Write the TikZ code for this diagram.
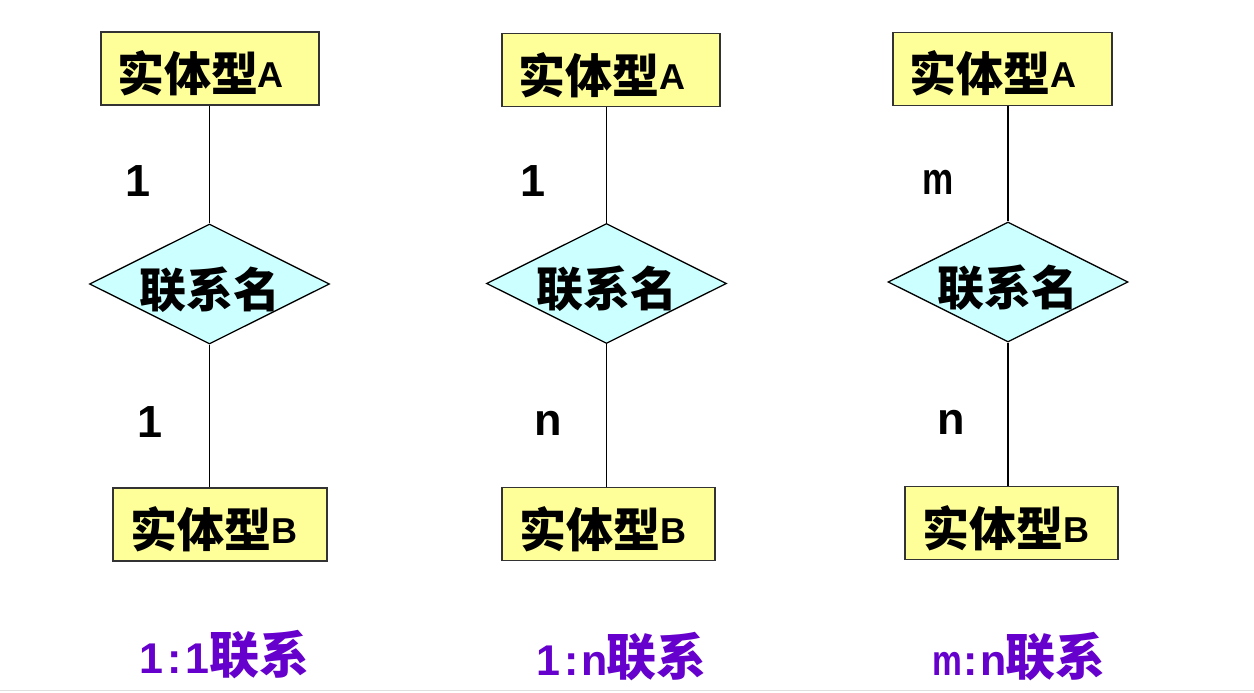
\documentclass[tikz,border=0pt]{standalone}
\usepackage{fontspec}
\usetikzlibrary{shapes.geometric}
\setmainfont{Liberation Sans}
\newfontfamily\cjk{Noto Sans CJK SC}
\definecolor{boxfill}{RGB}{255,255,153}
\definecolor{boxline}{RGB}{51,51,51}
\definecolor{diafill}{RGB}{204,255,255}
\definecolor{capcol}{RGB}{102,0,204}
\newcommand{\cj}[1]{{\cjk\bfseries #1}}
\newcommand{\entlabel}[2]{\cj{#1}\raisebox{4pt}{\fontsize{36}{36}\selectfont\bfseries #2}}
\newcommand{\rellabel}[1]{\raisebox{-23pt}[0pt][0pt]{\cj{#1}}}
\newcommand{\hw}[1]{\makebox[23pt][c]{#1}}
\newcommand{\captext}[4]{{\fontsize{43}{43}\selectfont\bfseries\hw{#1}\hw{#2}\hw{#3}}{\fontsize{50}{50}\selectfont\cj{#4}}}
\begin{document}
\begin{tikzpicture}[x=1pt,y=-1pt,
  ent/.style={draw=boxline, fill=boxfill, line width=1.6pt, minimum height=73pt,
    inner xsep=16pt, inner ysep=0pt, align=left, text height=50pt, text depth=4pt,
    font=\fontsize{47}{47}\selectfont},
  rel/.style={diamond, draw=black, fill=diafill, line width=1.3pt, aspect=2,
    minimum width=240pt, minimum height=120pt, inner sep=0pt,
    font=\fontsize{47}{47}\selectfont},
  conn/.style={draw=black, line width=1.3pt},
  card/.style={anchor=base, font=\fontsize{45}{45}\selectfont\bfseries, inner sep=0pt},
  capt/.style={anchor=base west, text=capcol, inner sep=0pt},
]
\useasboundingbox (0,0) rectangle (1254,693);
\fill[white] (0,0) rectangle (1254,693);
\draw[gray!25, line width=1.5pt] (0,690.5) -- (1254,690.5);

% column 1
\node[ent, text width=186pt] (a1) at (210,68.5) {\entlabel{实体型}{A}};
\node[rel] (r1) at (209.5,284) {\rellabel{联系名}};
\node[ent, text width=180pt, inner xsep=17pt] (b1) at (220,524.5) {\entlabel{实体型}{B}};
\draw[conn] (a1.south -| r1.north) -- (r1.north);
\draw[conn] (r1.south) -- (r1.south |- b1.north);
\node[card] (c1a) at (138,196) {1};
\node[card] (c1b) at (150,437) {1};
\node[capt] (t1) at (140,673) {\captext{1}{:}{1}{联系}};

% column 2
\node[ent, text width=186pt] (a2) at (611,70) {\entlabel{实体型}{A}};
\node[rel] (r2) at (606.5,283.5) {\rellabel{联系名}};
\node[ent, text width=179pt, inner xsep=17pt] (b2) at (608.5,524) {\entlabel{实体型}{B}};
\draw[conn] (a2.south -| r2.north) -- (r2.north);
\draw[conn] (r2.south) -- (r2.south |- b2.north);
\node[card] (c2a) at (533,196) {1};
\node[card] (c2b) at (548,435) {n};
\node[capt] (t2) at (537,675) {\captext{1}{:}{n}{联系}};

% column 3
\node[ent, text width=187pt] (a3) at (1002.5,69) {\entlabel{实体型}{A}};
\node[rel] (r3) at (1008,282) {\rellabel{联系名}};
\node[ent, text width=179pt, inner xsep=17pt] (b3) at (1011.5,523) {\entlabel{实体型}{B}};
\draw[conn] (a3.south -| r3.north) -- (r3.north);
\draw[conn] (r3.south) -- (r3.south |- b3.north);
\node[card] (c3a) at (938,194) {\scalebox{0.78}[1]{m}};
\node[card] (c3b) at (951,434) {n};
\node[capt] (t3) at (936,675) {\captext{\scalebox{0.78}[1]{m}}{:}{n}{联系}};
\end{tikzpicture}
\end{document}
